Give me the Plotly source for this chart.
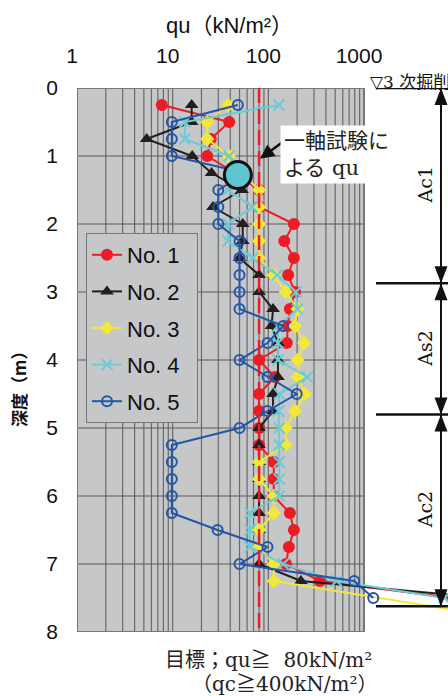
import math
import plotly.graph_objects as go

# ---------------- data ----------------
depth = [0.25, 0.5, 0.75, 1.0, 1.25, 1.5, 1.75, 2.0, 2.25, 2.5, 2.75, 3.0, 3.25, 3.5, 3.75,
         4.0, 4.25, 4.5, 4.75, 5.0, 5.25, 5.5, 5.75, 6.0, 6.25, 6.5, 6.75, 7.0, 7.25]

qu_no1 = [7.7, 39, 25, 23, 45, 80, 80, 185, 147, 185, 161, 190, 168, 160, 156,
          80, 117, 80, 80, 80, 80, 114, 114, 114, 168, 185, 164, 153, 346]
qu_no2 = [15.8, 15.8, 5.35, 16, 25.5, 53, 26.4, 54, 54, 50, 80, 80, 112, 108, 126,
          126, 126, 112, 112, 80, 80, 80, 80, 80, 80, 80, 80, 80, 219]
qu_no3 = [38, 23, 23, 39, 52, 80, 80, 80, 80, 80, 114, 152, 202, 190, 237,
          202, 202, 241, 190, 152, 152, 80, 80, 114, 114, 80, 80, 114, 114]
qu_no4 = [129, 13.4, 13.4, 39, 47, 38, 68, 38, 38, 69, 124, 194, 202, 126, 126,
          126, 256, 131, 128, 130, 130, 130, 130, 130, 64, 64, 64, 143, 517]
qu_no5 = [48, 9.8, 9.8, 9.8, 58, 30, 30, 30, 50, 50, 50, 50, 50, 143, 98,
          50, 98, 198, 98, 50, 9.8, 9.8, 9.8, 9.8, 9.8, 29.5, 98, 50, 790]

# last (deepest) reading of each series, mostly beyond the 1000 kN/m2 axis end
end_depth = [7.5, 7.5, 7.75, 7.5, 7.5]
end_qu = [8500, 18600, 18600, 6900, 1250]

series_names = ["No. 1", "No. 2", "No. 3", "No. 4", "No. 5"]
series_values = [qu_no1, qu_no2, qu_no3, qu_no4, qu_no5]

uc_test_qu = [48]          # 一軸試験による qu
uc_test_depth = [1.28]

target_qu = 80             # 目標 qu
target_depth = [0, 8]

x_tickvals = [1, 10, 100, 1000]
x_ticktext = ["1", "10", "100", "1000"]
y_tickvals = [0, 1, 2, 3, 4, 5, 6, 7, 8]

layers = ["Ac1", "As2", "Ac2"]
layer_bounds = [0.0, 2.87, 4.8, 7.62]

# ---------------- styles ----------------
colors = ["#ed1c24", "#231f20", "#f2e838", "#6ccbd6", "#2456a8"]
markers = [
    dict(symbol="circle", size=12),
    dict(symbol="triangle-up", size=12),
    dict(symbol="diamond", size=11),
    dict(symbol="x-thin", size=11),
    dict(symbol="circle-open", size=10),
]

W, H = 448, 696
L, R, T, B = 77, 448, 88, 632        # plot area in px
DEC = (364 - 77) / 3.0                # px per decade
XMAX = (R - L) / DEC                  # log range upper bound


def px(X):
    return (X - L) / (R - L)


def py(Y):
    return (B - Y) / (B - T)


def dy(pix):
    return pix * 8.0 / (B - T)


SANS = "Liberation Sans Narrow, Liberation Sans, Arial"
SERIF = "DejaVu Serif, Noto Sans CJK JP"
GRAY = "#c6c7c9"
NB = "\u00a0"

fig = go.Figure()

for i, (name, vals, col, mk) in enumerate(zip(series_names, series_values, colors, markers)):
    m = dict(mk)
    m["color"] = col
    if mk["symbol"] in ("x-thin", "circle-open"):
        m["line"] = dict(width=2, color=col)
    fig.add_trace(go.Scatter(
        x=vals + [end_qu[i]], y=depth + [end_depth[i]], name=name + NB * 2,
        mode="lines+markers", line=dict(color=col, width=2), marker=m,
        legendgroup=name,
    ))

fig.add_trace(go.Scatter(
    x=uc_test_qu, y=uc_test_depth, mode="markers", showlegend=False,
    marker=dict(size=27, color="#5ec6d0", line=dict(width=3, color="#111")),
))

fig.add_trace(go.Scatter(
    x=[target_qu, target_qu], y=target_depth, mode="lines", showlegend=False,
    line=dict(color="#ed1c24", width=2.5, dash="15px,6px"),
))

# ---------------- background, grid ----------------
shapes = [dict(type="rect", xref="x", yref="y", x0=1, x1=1000, y0=0, y1=8,
               fillcolor=GRAY, line=dict(width=0), layer="below")]
for e in range(3):
    for k in range(2, 11):
        v = k * 10 ** e
        if v >= 1000:
            continue
        shapes.append(dict(type="line", xref="x", yref="y", x0=v, x1=v, y0=0, y1=8,
                           line=dict(color="#6a6a6a", width=1.2), layer="below"))
for d in range(1, 8):
    shapes.append(dict(type="line", xref="x", yref="y", x0=1, x1=1000, y0=d, y1=d,
                       line=dict(color="#5a5a5a", width=1.2), layer="below"))
shapes.append(dict(type="rect", xref="x", yref="y", x0=1, x1=1000, y0=0, y1=8,
                   fillcolor="rgba(0,0,0,0)", line=dict(color="#777", width=2), layer="below"))

# ---------------- right-hand layer brackets ----------------
VX = 441
for b in layer_bounds:
    shapes.append(dict(type="line", xref="paper", yref="y", x0=px(376), x1=px(448), y0=b, y1=b,
                       line=dict(color="#111", width=2.5)))
shapes.append(dict(type="line", xref="paper", yref="y", x0=px(VX), x1=px(VX),
                   y0=layer_bounds[0], y1=layer_bounds[-1], line=dict(color="#111", width=2)))
th = dy(17)
for i, b in enumerate(layer_bounds):
    dirs = []
    if i > 0:
        dirs.append(-1)   # triangle above the line, pointing down
    if i < len(layer_bounds) - 1:
        dirs.append(1)    # triangle below the line, pointing up
    for s in dirs:
        path = "M {a},{b0} L {l},{b1} L {r},{b1} Z".format(
            a=px(VX), b0=b, l=px(VX - 6.5), r=px(VX + 6.5), b1=b + s * th)
        shapes.append(dict(type="path", xref="paper", yref="y", path=path,
                           fillcolor="#111", line=dict(width=0)))

annotations = []
for name, y0, y1 in zip(layers, layer_bounds[:-1], layer_bounds[1:]):
    annotations.append(dict(text=name, xref="paper", yref="y", x=px(425), y=(y0 + y1) / 2,
                            xanchor="center", yanchor="middle",
                            showarrow=False, textangle=-90,
                            font=dict(family=SERIF, size=19, color="#111")))

annotations += [
    dict(text="▽3 次掘削", xref="paper", yref="paper", x=px(368), y=py(82),
         xanchor="left", yanchor="middle", showarrow=False,
         font=dict(family=SERIF, size=17, color="#111")),
    dict(text="qu（kN/m²）", xref="paper", yref="paper", x=px(229), y=py(25),
         xanchor="center", yanchor="middle", showarrow=False,
         font=dict(family="Liberation Sans, Noto Sans CJK JP", size=22, color="#111")),
    dict(text="深度（m）", xref="paper", yref="paper", x=px(18), y=py(385),
         xanchor="center", yanchor="middle", showarrow=False, textangle=-90,
         font=dict(family="Noto Sans CJK JP", size=17, color="#111", weight="bold")),
    dict(text="目標；qu≧  80kN/m²", xref="paper", yref="paper", x=px(374), y=py(660),
         xanchor="right", yanchor="middle", showarrow=False,
         font=dict(family=SERIF, size=20, color="#222")),
    dict(text="（qc≧400kN/m²）", xref="paper", yref="paper", x=px(380), y=py(684),
         xanchor="right", yanchor="middle", showarrow=False,
         font=dict(family=SERIF, size=20, color="#222")),
    # arrow to the uniaxial test point
    dict(text="", x=math.log10(target_qu) + 0.01, y=1.04, xref="x", yref="y",
         showarrow=True, ax=30, ay=-22, arrowhead=2, arrowsize=1.1, arrowwidth=2.6,
         arrowcolor="#111"),
    dict(text="一軸試験に<br>よる qu", xref="paper", yref="paper", x=px(336), y=py(154),
         xanchor="center", yanchor="middle",
         showarrow=False, bgcolor="white", borderpad=3, align="left",
         font=dict(family=SERIF, size=21, color="#222")),
]

fig.update_layout(
    width=W, height=H, autosize=False,
    margin=dict(l=L, r=W - R, t=T, b=H - B, pad=0),
    paper_bgcolor="white", plot_bgcolor="white",
    shapes=shapes, annotations=annotations,
    showlegend=True,
    legend=dict(x=px(86), y=py(233), xanchor="left", yanchor="top",
                bgcolor=GRAY, bordercolor="#777", borderwidth=1,
                font=dict(family=SANS, size=22, color="#111"),
                tracegroupgap=5, traceorder="grouped"),
    xaxis=dict(type="log", range=[0, XMAX], side="top", tickvals=x_tickvals, ticktext=x_ticktext,
               showgrid=False, zeroline=False, showline=False, ticks="",
               tickfont=dict(family=SANS, size=21, color="#111"),
               ticklabelstandoff=20, ticklabelshift=-5),
    yaxis=dict(range=[8, 0], tickvals=y_tickvals, showgrid=False, zeroline=False, showline=False,
               ticks="", tickfont=dict(family=SANS, size=21, color="#111"),
               ticklabelstandoff=18),
)

fig.write_html("out.html", config={"displayModeBar": False},
               post_script="document.body.style.margin='0px';")
